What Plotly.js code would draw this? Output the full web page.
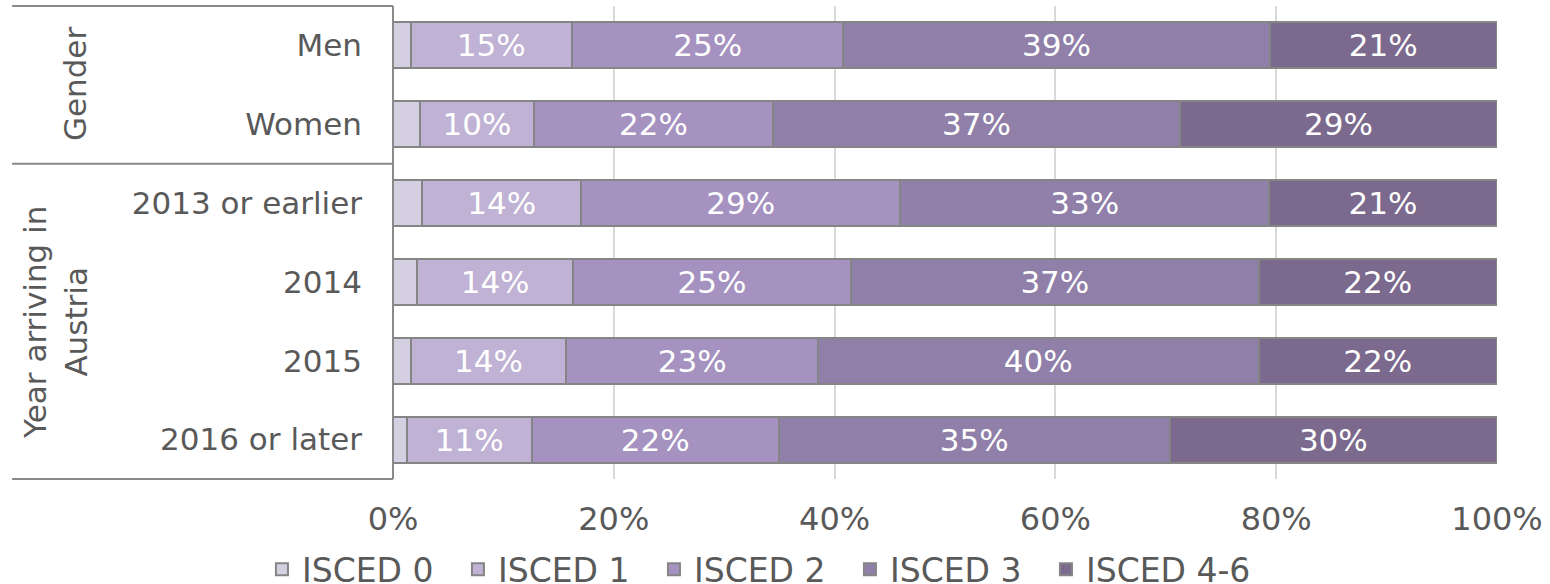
<!DOCTYPE html>
<html>
<head>
<meta charset="utf-8">
<script src="https://cdn.plot.ly/plotly-3.0.1.min.js"></script>
<style>html,body{margin:0;padding:0;background:#fff;}#chart{width:1550px;height:584px;}</style>
</head>
<body>
<div id="chart"></div>
<script>
const categories = ["Men", "Women", "2013 or earlier", "2014", "2015", "2016 or later"];
const seriesNames = ["ISCED 0", "ISCED 1", "ISCED 2", "ISCED 3", "ISCED 4-6"];
const isced0 = [1.6, 2.4, 2.65, 2.2, 1.6, 1.25];
const isced1 = [14.6, 10.4, 14.4, 14.1, 14.1, 11.3];
const isced2 = [24.6, 21.6, 28.9, 25.2, 22.8, 22.4];
const isced3 = [38.6, 36.9, 33.4, 36.9, 39.9, 35.4];
const isced46 = [20.6, 28.7, 20.65, 21.6, 21.6, 29.65];
const groupLabels = ["Gender", "Year arriving in<br>Austria"];
const xTicks = [0, 20, 40, 60, 80, 100];

const colors = ["#d5cfe2", "#bfb2d4", "#a592c0", "#9080a9", "#7b6a8d"];
const allSeries = [isced0, isced1, isced2, isced3, isced46];
const font = "DejaVu Sans, Verdana, sans-serif";
const fs = 31;

const traces = allSeries.map((vals, i) => ({
  type: "bar",
  orientation: "h",
  name: seriesNames[i],
  x: vals,
  y: categories,
  marker: {color: colors[i], line: {color: "#858585", width: 2}},
  texttemplate: i === 0 ? "" : "%{x:.0f}%",
  textposition: i === 0 ? "none" : "inside",
  insidetextanchor: "middle",
  textangle: 0,
  insidetextfont: {color: "#ffffff", size: fs, family: font},
  legendwidth: i === 4 ? 190 : undefined,
  hoverinfo: "x+y+name"
}));

const lineColor = "#8a8a8a";
const shapes = [
  {type: "line", xref: "paper", yref: "paper", x0: -0.345, x1: 0, y0: 1, y1: 1, line: {color: lineColor, width: 2}},
  {type: "line", xref: "paper", yref: "paper", x0: -0.345, x1: 0, y0: 0, y1: 0, line: {color: lineColor, width: 2}},
  {type: "line", xref: "paper", yref: "y", x0: -0.345, x1: 0, y0: 1.5, y1: 1.5, line: {color: lineColor, width: 2}},
  {type: "line", xref: "paper", yref: "paper", x0: 0, x1: 0, y0: 0, y1: 1, line: {color: lineColor, width: 2}}
];

const annotations = [
  {text: groupLabels[0], xref: "paper", yref: "paper", x: -0.288, y: 0.835, textangle: -90,
   showarrow: false, font: {size: fs, color: "#595959", family: font}, xanchor: "center", yanchor: "middle"},
  {text: groupLabels[1], xref: "paper", yref: "paper", x: -0.306, y: 0.33, textangle: -90,
   showarrow: false, font: {size: fs, color: "#595959", family: font}, xanchor: "center", yanchor: "middle"}
];

const layout = {
  width: 1550, height: 584,
  margin: {l: 393, r: 53, t: 6, b: 105, pad: 0},
  paper_bgcolor: "#ffffff", plot_bgcolor: "#ffffff",
  barmode: "stack",
  bargap: 0.415,
  font: {family: font, size: fs, color: "#595959"},
  showlegend: true,
  legend: {orientation: "h", xref: "container", yref: "container", x: 0.169, xanchor: "left",
           y: 0.025, yanchor: "middle", bgcolor: "rgba(0,0,0,0)",
           font: {size: 33, color: "#595959", family: font},
           traceorder: "normal", itemwidth: 30, entrywidth: 151, entrywidthmode: "pixels"},
  xaxis: {range: [0, 100], tickvals: xTicks, ticktext: xTicks.map(v => v + "%"),
          showgrid: true, gridcolor: "#d9d9d9", gridwidth: 2, zeroline: false, showline: false,
          ticks: "", ticklabelstandoff: 18, tickfont: {size: 32, color: "#595959", family: font}, fixedrange: true},
  yaxis: {type: "category", autorange: "reversed", showgrid: false, zeroline: false, showline: false,
          ticks: "", ticklabelstandoff: 30, tickfont: {size: fs, color: "#595959", family: font}, fixedrange: true},
  shapes: shapes,
  annotations: annotations
};

Plotly.newPlot("chart", traces, layout, {displayModeBar: false, staticPlot: true});
</script>
</body>
</html>
